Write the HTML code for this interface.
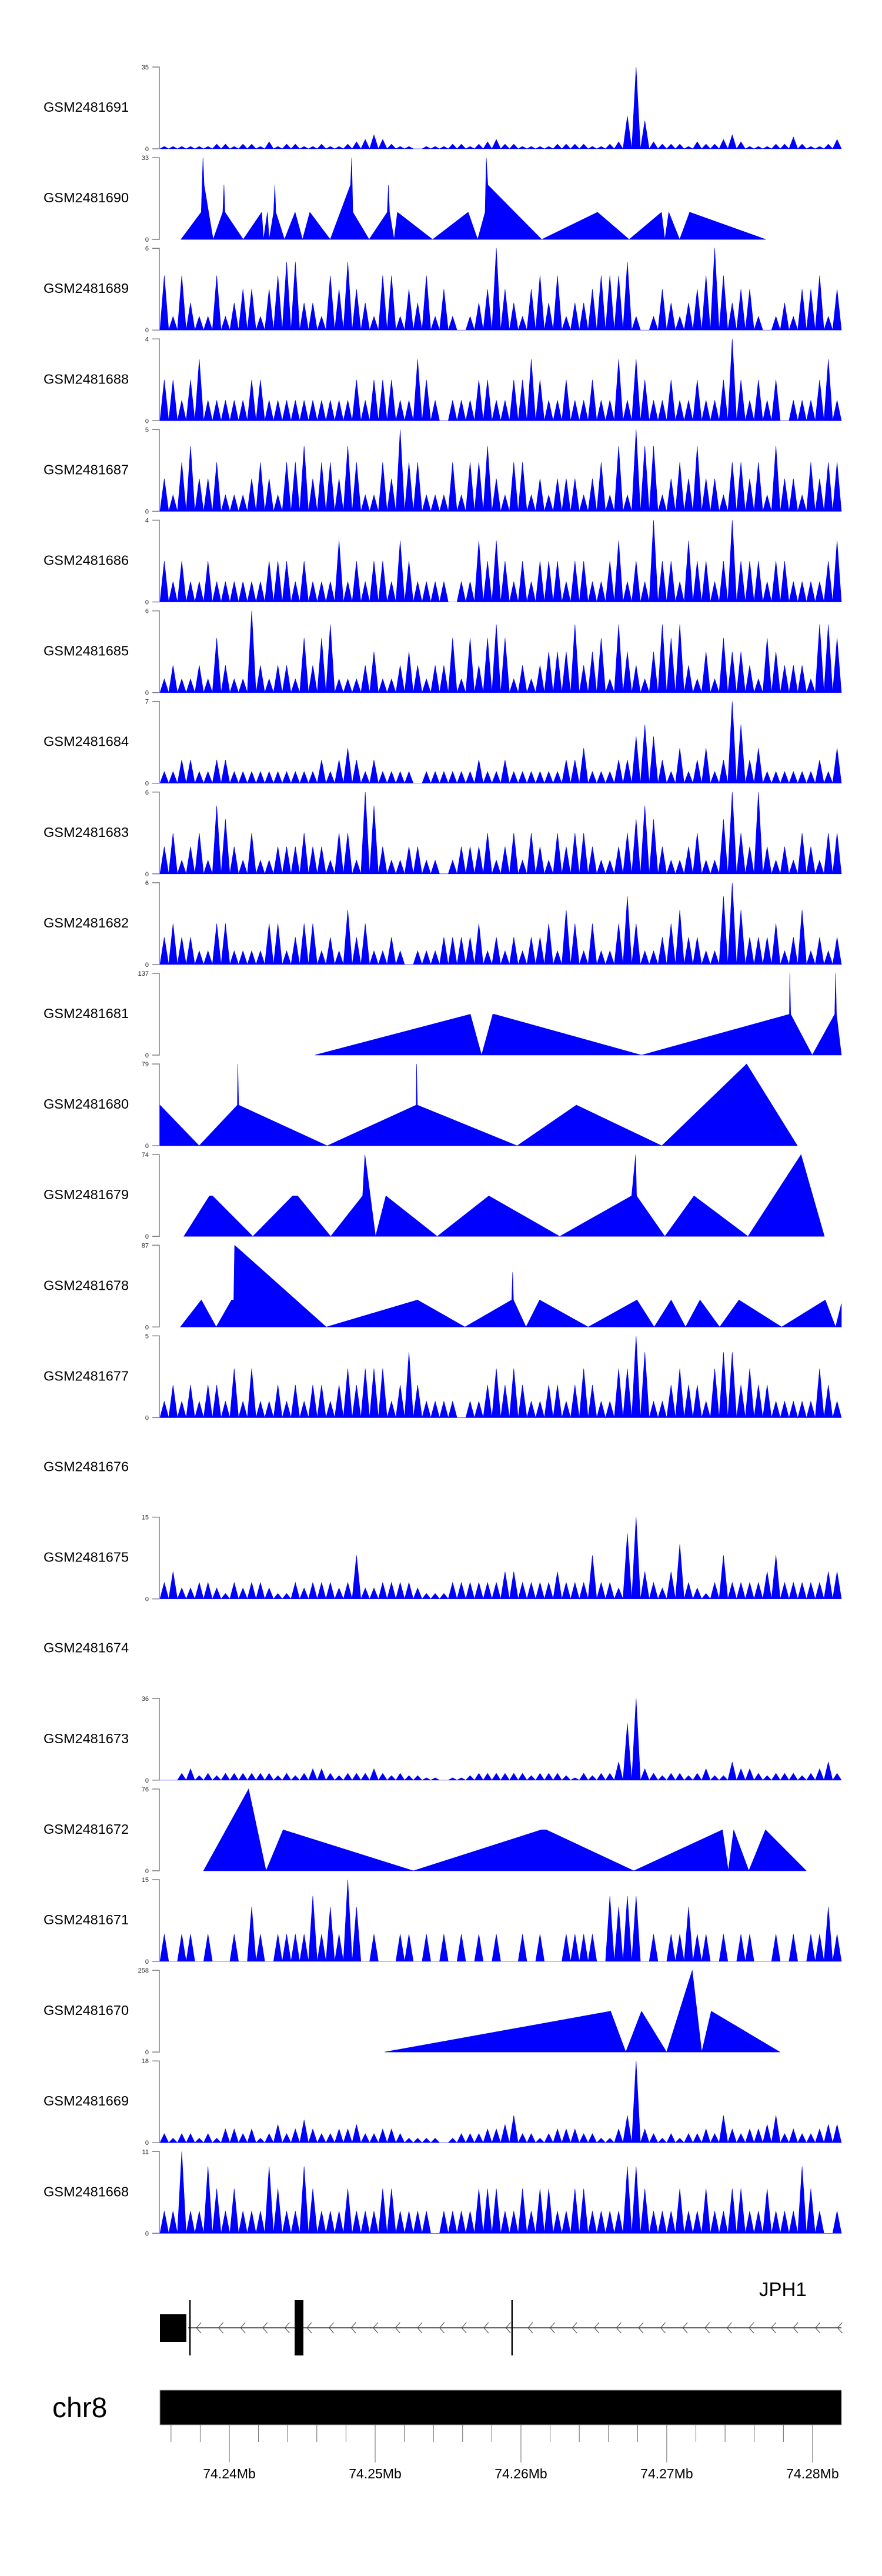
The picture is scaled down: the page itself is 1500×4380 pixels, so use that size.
<!DOCTYPE html>
<html><head><meta charset="utf-8">
<style>
html,body{margin:0;padding:0;background:#fff;}
svg{display:block;font-family:"Liberation Sans",Arial,sans-serif;}
</style></head>
<body>
<svg id="chart" width="1500" height="4380" viewBox="0 0 1500 4380" xmlns="http://www.w3.org/2000/svg">
  <g id="tracks"></g>
  <g id="gene">
    <text x="1291" y="3904" font-size="33" fill="#000">JPH1</text>
  </g>
  <g id="ideo">
    <text x="89" y="4110" font-size="48" fill="#000">chr8</text>
    <rect x="272" y="4064" width="1159" height="59" fill="#000" stroke="#999" stroke-width="1"/>
  </g>
</svg>
<script>
// genomic window (kb offset from 74.23 Mb)
const kbStart = 5.24, kbEnd = 51.98;
const trackNames = ["GSM2481691","GSM2481690","GSM2481689","GSM2481688","GSM2481687","GSM2481686","GSM2481685","GSM2481684","GSM2481683","GSM2481682","GSM2481681","GSM2481680","GSM2481679","GSM2481678","GSM2481677","GSM2481676","GSM2481675","GSM2481674","GSM2481673","GSM2481672","GSM2481671","GSM2481670","GSM2481669","GSM2481668"];
const trackMax = [35,33,6,4,5,4,6,7,6,6,137,79,74,87,5,null,15,null,36,76,15,258,18,11];

// dense tracks: binned values across the window
const v1691 = [1,1,1,1,1,1,2,2,1,2,2,1,3,1,2,2,1,1,2,1,1,2,3,4,6,4,2,1,1,0,1,1,1,2,2,1,2,3,4,2,2,1,1,1,1,2,2,2,2,1,1,2,3,14,35,12,3,2,2,2,1,3,2,2,4,6,3,1,1,1,2,2,5,2,1,1,2,4];
const v1689 = [4,1,4,2,1,1,4,1,2,3,3,1,3,4,5,5,2,2,1,4,3,5,3,2,1,4,4,1,3,2,4,1,3,1,0,1,2,3,6,3,2,1,3,4,2,4,1,2,2,3,4,4,4,5,1,0,1,3,2,1,2,3,4,6,4,2,3,3,1,0,1,2,1,3,3,4,1,3];
const v1688 = [2,2,1,2,3,1,1,1,1,1,2,2,1,1,1,1,1,1,1,1,1,1,2,1,2,2,2,1,1,3,2,1,0,1,1,1,2,2,1,1,2,2,3,2,1,1,2,1,1,2,1,1,3,1,3,2,1,1,2,1,1,2,1,1,2,4,2,1,2,1,2,0,1,1,1,2,3,1];
const v1687 = [2,1,3,4,2,2,3,1,1,1,2,3,2,1,3,3,4,2,3,3,2,4,3,1,1,3,2,5,3,3,1,1,1,3,1,3,3,4,2,1,3,3,1,2,1,2,2,2,1,2,3,1,4,1,5,4,4,1,2,3,2,4,2,2,1,3,3,2,3,1,4,2,2,1,3,2,3,3];
const v1686 = [2,1,2,1,1,2,1,1,1,1,1,1,2,2,2,1,2,1,1,1,3,1,2,1,2,2,1,3,2,1,1,1,1,0,1,1,3,2,3,2,1,2,1,2,2,2,1,2,2,1,1,2,3,1,2,1,4,2,2,1,3,2,2,1,2,4,2,2,2,1,2,2,1,1,1,1,2,3];
const v1685 = [1,2,1,1,2,1,4,2,1,1,6,2,1,2,2,1,4,2,4,5,1,1,1,2,3,1,1,2,3,2,1,2,2,4,1,4,2,4,5,4,1,2,1,2,3,3,3,5,2,3,4,1,5,3,2,1,3,5,4,5,2,1,3,1,4,3,3,2,1,4,3,2,2,2,1,5,5,4];
const v1684 = [1,1,2,2,1,1,2,2,1,1,1,1,1,1,1,1,1,1,2,1,2,3,2,1,2,1,1,1,1,0,1,1,1,1,1,1,2,1,1,2,1,1,1,1,1,1,2,2,3,1,1,1,2,2,4,5,4,2,1,3,1,2,3,1,2,7,5,2,3,1,1,1,1,1,1,2,1,3];
const v1683 = [2,3,1,2,3,1,5,4,2,1,3,1,1,2,2,2,3,2,2,1,3,3,1,6,5,2,1,1,2,2,1,1,0,1,2,2,2,3,1,2,3,1,3,2,1,3,2,3,3,2,1,1,2,3,4,5,4,2,1,1,2,3,1,1,4,6,3,2,6,2,1,2,1,3,2,1,3,3];
const v1682 = [2,3,2,2,1,1,3,3,1,1,1,1,3,3,1,2,3,3,1,2,1,4,2,3,1,1,2,1,0,1,1,1,2,2,2,2,3,1,2,1,2,1,2,2,3,1,4,3,1,3,1,1,3,5,3,1,1,2,3,4,2,2,1,1,5,6,4,2,2,2,3,1,2,4,1,2,1,2];
const v1677 = [1,2,1,2,1,2,2,1,3,1,3,1,1,2,1,2,1,2,2,1,2,3,2,3,3,3,1,2,4,2,1,1,1,1,0,1,1,2,3,2,3,2,1,1,2,2,1,2,3,2,1,1,3,3,5,4,1,1,2,3,2,2,1,3,4,4,2,3,2,2,1,1,1,1,1,3,2,1];
const v1675 = [3,5,2,2,3,3,2,1,3,2,3,3,2,1,1,3,2,3,3,3,2,3,8,2,2,3,3,3,3,2,1,1,1,3,3,3,3,3,3,5,5,3,3,3,3,5,3,3,3,8,3,3,2,12,15,5,3,2,5,10,3,2,1,3,8,3,3,3,3,5,8,3,3,3,3,3,5,5];
const v1673 = [0,0,3,5,2,3,2,3,3,3,3,3,3,2,3,2,3,5,5,3,2,3,3,3,5,3,2,3,2,2,1,1,0,1,1,2,3,3,3,3,3,3,2,3,3,3,2,1,3,2,3,3,8,25,36,5,3,2,3,3,2,3,5,2,2,8,5,5,3,2,3,3,3,2,3,5,8,3];
const v1671 = [5,0,5,5,0,5,0,0,5,0,10,5,0,5,5,5,5,12,5,10,5,15,10,0,5,0,0,5,5,0,5,0,5,0,5,0,5,0,5,0,0,5,0,5,0,0,5,5,5,5,0,12,10,12,12,0,5,0,5,5,10,5,5,0,5,0,5,5,0,0,5,0,5,0,5,5,10,5];
const v1669 = [2,1,2,2,1,2,1,3,3,2,3,1,2,4,2,3,5,3,2,2,3,3,4,2,2,3,3,2,1,1,1,1,0,1,2,2,2,3,3,4,6,2,2,1,2,3,3,3,2,2,1,1,3,6,18,3,2,1,2,1,2,2,3,2,6,3,2,3,3,4,6,2,3,2,2,3,4,4];
const v1668 = [3,3,11,3,3,9,6,3,6,3,3,3,9,6,3,3,9,6,3,3,3,6,3,3,3,6,6,3,3,3,3,0,3,3,3,3,6,6,6,3,3,6,3,6,6,3,3,6,6,3,3,3,3,9,9,6,3,3,3,6,3,3,6,3,3,6,6,3,3,6,3,3,3,9,6,3,0,3];

// sparse tracks: vertex positions (kb) and values
const p1690 = [6.68,8.07,8.19,8.27,8.89,9.55,9.63,9.70,10.95,12.22,12.34,12.61,12.73,13.04,13.12,13.19,13.78,14.51,15.02,15.52,16.92,18.31,18.39,18.47,19.59,20.83,20.91,20.99,21.30,21.53,23.94,26.38,27.03,27.54,27.62,27.73,31.42,35.25,37.42,39.64,39.87,40.14,40.88,41.57,46.80];
const y1690 = [0,11,33,22,0,11,22,11,0,11,0,11,0,11,22,11,0,11,0,11,0,22,33,11,0,11,22,11,0,11,0,11,0,11,33,22,0,11,0,11,0,11,0,11,0];
const p1681 = [15.85,26.53,27.30,28.07,28.17,38.27,48.41,48.44,48.50,49.98,51.52,51.58,51.64,51.98];
const y1681 = [0,68.5,0,68.5,68.5,0,68.5,137,68.5,0,68.5,137,68.5,0];
const p1680 = [5.24,7.93,10.55,10.58,10.64,16.71,22.81,22.84,22.90,29.74,33.80,39.66,45.48,48.96];
const y1680 = [39.3,0,39.3,79,39.3,0,39.3,79,39.3,0,39.3,0,79,0];
const p1679 = [6.88,8.64,8.85,11.61,14.34,14.68,16.95,19.14,19.30,20.03,20.74,24.26,27.80,32.66,37.59,37.87,37.93,39.87,41.87,45.57,49.21,50.81];
const y1679 = [0,36.7,36.7,0,36.7,36.7,0,36.7,74,0,36.7,0,36.7,0,36.7,74,36.7,0,36.7,0,74,0];
const p1678 = [6.64,8.08,9.10,10.15,10.30,10.36,16.65,22.90,26.16,29.37,29.43,29.49,30.35,31.28,34.61,37.96,39.14,40.30,41.29,42.28,43.63,44.95,47.88,50.87,51.58,51.98];
const y1678 = [0,28.8,0,28.8,28.8,87,0,28.8,0,28.8,58.2,28.8,0,28.8,0,28.8,0,28.8,0,28.8,0,28.8,0,28.8,0,25];
const p1672 = [8.23,11.32,12.52,13.69,22.62,31.40,31.73,37.74,43.82,44.22,44.59,45.63,46.77,49.57];
const y1672 = [0,76,0,38.1,0,38.1,38.1,0,38.1,0,38.1,0,38.1,0];
const p1670 = [20.65,36.15,37.19,38.27,39.99,41.75,42.40,43.05,47.76];
const y1670 = [0,129,0,129,0,258,0,129,0];

// axis tick labels
const axisMajorKb = [10,20,30,40,50];
const axisMajorLabels = ["74.24Mb","74.25Mb","74.26Mb","74.27Mb","74.28Mb"];
const axisMinorKb = [6,8,12,14,16,18,22,24,26,28,32,34,36,38,42,44,46,48];
// gene structure (kb)
const exonLines = [7.30,29.39];
const exonThick = [{s:14.48,e:15.08}];
const utrBox = {s:5.24,e:7.05};

const denseData = {"GSM2481691":v1691,"GSM2481689":v1689,"GSM2481688":v1688,"GSM2481687":v1687,"GSM2481686":v1686,"GSM2481685":v1685,"GSM2481684":v1684,"GSM2481683":v1683,"GSM2481682":v1682,"GSM2481677":v1677,"GSM2481675":v1675,"GSM2481673":v1673,"GSM2481671":v1671,"GSM2481669":v1669,"GSM2481668":v1668};
const sparseData = {"GSM2481690":[p1690,y1690],"GSM2481681":[p1681,y1681],"GSM2481680":[p1680,y1680],"GSM2481679":[p1679,y1679],"GSM2481678":[p1678,y1678],"GSM2481672":[p1672,y1672],"GSM2481670":[p1670,y1670]};

const NS = "http://www.w3.org/2000/svg";
const X0 = 272, X1 = 1431;
function xScale(kb){ return X0 + (kb - kbStart) / (kbEnd - kbStart) * (X1 - X0); }
function clampX(x){ return Math.max(X0, Math.min(X1, x)); }
function mk(tag, attrs, parent){ const e = document.createElementNS(NS, tag); for (const k in attrs) e.setAttribute(k, attrs[k]); parent.appendChild(e); return e; }

const tracksG = document.getElementById("tracks");
const pitch = 154.1, top0 = 114, plotH = 139;
trackNames.forEach(function(name, i){
  const top = top0 + pitch * i, base = top + plotH;
  const g = mk("g", {}, tracksG);
  
  
  const lab = mk("text", {x: 74, y: (top + 76).toFixed(1), "font-size": "23.5", fill: "#000"}, g);
  lab.textContent = name;
  
  
  const mx = trackMax[i];
  if (mx === null) return;
  const yS = function(v){ return base - v / mx * plotH; };
  const ax = mk("path", {d: "M259 " + top + " H271 V" + base + " H259", fill: "none", stroke: "#808080", "stroke-width": "1.5"}, g);
  
  
  const t1 = mk("text", {x: 253, y: (top + 4).toFixed(1), "font-size": "11", "text-anchor": "end", fill: "#222"}, g);
  t1.textContent = String(mx);
  
  
  const t0 = mk("text", {x: 253, y: (base + 4).toFixed(1), "font-size": "11", "text-anchor": "end", fill: "#222"}, g);
  t0.textContent = "0";
  
  
  let d = "";
  if (denseData[name]) {
    const vals = denseData[name], n = vals.length, step = (kbEnd - kbStart) / n;
    d = "M" + X0 + " " + base;
    vals.forEach(function(v, j){
      const c = kbStart + (j + 0.5) * step;
      d += " L" + clampX(xScale(c - step * 0.5)).toFixed(1) + " " + base +
           " L" + clampX(xScale(c)).toFixed(1) + " " + yS(v).toFixed(1) +
           " L" + clampX(xScale(c + step * 0.5)).toFixed(1) + " " + base;
    });
    d += " Z";
  } else if (sparseData[name]) {
    const P = sparseData[name][0], Y = sparseData[name][1];
    d = "M" + clampX(xScale(P[0])).toFixed(1) + " " + base;
    P.forEach(function(p, j){ d += " L" + clampX(xScale(p)).toFixed(1) + " " + yS(Y[j]).toFixed(1); });
    d += " L" + clampX(xScale(P[P.length - 1])).toFixed(1) + " " + base + " Z";
  }
  const area = mk("path", {d: d, fill: "#0000ff", stroke: "#0000ff", "stroke-width": "0.6"}, g);
  
  
});

// gene model
const geneG = document.getElementById("gene");
const gl = mk("line", {x1: 320, y1: 3958, x2: X1, y2: 3958, stroke: "#333", "stroke-width": "1.5"}, geneG);


for (let x = 334; x < X1; x += 37.6) {
  if (Math.abs(x - 510) < 10 || Math.abs(x - 871) < 6) continue;
  const ch = mk("path", {d: "M" + (x + 8) + " 3949 L" + x + " 3958 L" + (x + 8) + " 3967", fill: "none", stroke: "#444", "stroke-width": "1"}, geneG);
  
  
}
const ub = mk("rect", {x: xScale(utrBox.s), y: 3935, width: xScale(utrBox.e) - xScale(utrBox.s), height: 47, fill: "#000"}, geneG);


exonLines.forEach(function(k){
  const l = mk("rect", {x: xScale(k) - 1.2, y: 3911, width: 2.4, height: 94, fill: "#000"}, geneG);
  
  
});
exonThick.forEach(function(e){
  const r = mk("rect", {x: xScale(e.s), y: 3911, width: xScale(e.e) - xScale(e.s), height: 94, fill: "#000"}, geneG);
  
  
});

// genome axis
const ideoG = document.getElementById("ideo");
axisMinorKb.forEach(function(k){
  const t = mk("line", {x1: xScale(k), y1: 4123, x2: xScale(k), y2: 4152, stroke: "#666", "stroke-width": "1"}, ideoG);
  
  
});
axisMajorKb.forEach(function(k, j){
  const t = mk("line", {x1: xScale(k), y1: 4123, x2: xScale(k), y2: 4187, stroke: "#666", "stroke-width": "1"}, ideoG);
  
  
  const lb = mk("text", {x: xScale(k), y: 4214, "font-size": "23", "text-anchor": "middle", fill: "#000"}, ideoG);
  lb.textContent = axisMajorLabels[j];
  
  
});
</script>
</body></html>
